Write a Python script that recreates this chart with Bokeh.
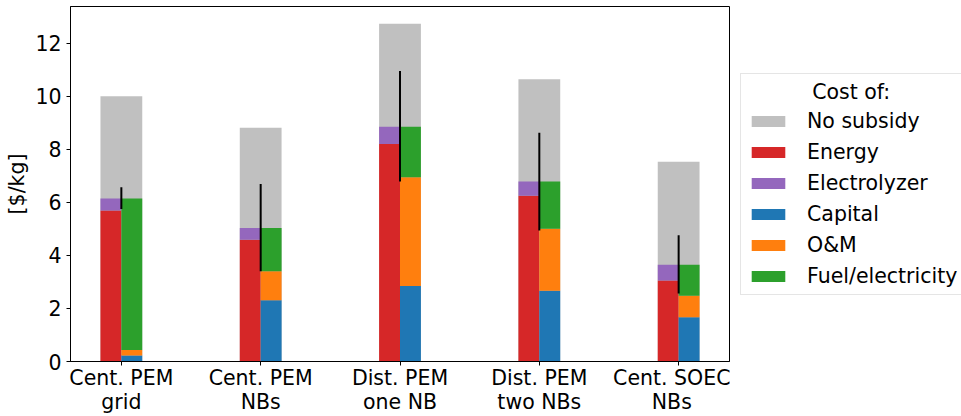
from bokeh.plotting import figure
from bokeh.layouts import row
from bokeh.models import Range1d, FixedTicker, Legend, LegendItem, ColumnDataSource
from bokeh.transform import dodge
from bokeh.embed import file_html
from bokeh.resources import INLINE

# ---- data ----
categories = ["Cent. PEM\ngrid", "Cent. PEM\nNBs", "Dist. PEM\none NB", "Dist. PEM\ntwo NBs", "Cent. SOEC\nNBs"]
no_subsidy = [10.00, 8.81, 12.73, 10.64, 7.53]
energy = [5.69, 4.59, 8.20, 6.25, 3.05]
electrolyzer = [0.45, 0.44, 0.65, 0.53, 0.60]
capital = [0.23, 2.31, 2.85, 2.67, 1.67]
om = [0.20, 1.09, 4.09, 2.33, 0.81]
fuel = [5.71, 1.63, 1.91, 1.78, 1.17]
err_low = [5.75, 3.40, 6.78, 4.94, 2.56]
err_high = [6.57, 6.69, 10.95, 8.62, 4.76]
legend_title = "Cost of:"
legend_labels = ["No subsidy", "Energy", "Electrolyzer", "Capital", "O&M", "Fuel/electricity"]
legend_fields = ["no_subsidy", "energy", "electrolyzer", "capital", "om", "fuel"]
legend_colors = ["#c0c0c0", "#d62728", "#9467bd", "#1f77b4", "#ff7f0e", "#2ca02c"]

FONT = "DejaVu Sans"
FS = "20.5px"
xs = list(range(len(categories)))
src = ColumnDataSource(dict(x=xs, no_subsidy=no_subsidy, energy=energy, electrolyzer=electrolyzer,
                            capital=capital, om=om, fuel=fuel, lo=err_low, hi=err_high))

p = figure(width=730, height=416, output_backend="svg", toolbar_location=None,
           x_range=Range1d(-0.365, 4.365), y_range=Range1d(0, 13.38),
           min_border_left=70, min_border_top=6, min_border_bottom=54, min_border_right=1)

p.xgrid.visible = False
p.ygrid.visible = False
p.outline_line_color = "black"
p.outline_line_alpha = 1

p.vbar(x="x", width=0.3, top="no_subsidy", source=src, color=legend_colors[0], line_color=None)
p.vbar_stack(["energy", "electrolyzer"], x=dodge("x", -0.075), width=0.15, source=src,
             color=legend_colors[1:3], line_color=None)
p.vbar_stack(["capital", "om", "fuel"], x=dodge("x", 0.075), width=0.15, source=src,
             color=legend_colors[3:6], line_color=None)
p.segment(x0="x", y0="lo", x1="x", y1="hi", source=src, line_color="black", line_width=2)

p.xaxis.ticker = FixedTicker(ticks=xs)
p.xaxis.major_label_overrides = {i: c for i, c in enumerate(categories)}
p.yaxis.ticker = FixedTicker(ticks=[0, 2, 4, 6, 8, 10, 12])
p.yaxis.axis_label = "[$/kg]"
for ax in (p.xaxis, p.yaxis):
    ax.major_label_text_font = FONT
    ax.major_label_text_font_size = FS
    ax.major_label_text_color = "black"
    ax.major_label_text_line_height = 1.0
    ax.axis_label_text_font = FONT
    ax.axis_label_text_font_size = FS
    ax.axis_label_text_font_style = "normal"
    ax.axis_label_text_color = "black"
    ax.minor_tick_line_color = None
    ax.major_tick_in = 0
    ax.major_tick_out = 4
    ax.major_tick_line_color = "black"
    ax.axis_line_color = "black"
p.yaxis.major_label_standoff = 5
p.yaxis.axis_label_standoff = 3
p.xaxis.major_label_standoff = 0

# ---- legend panel (separate figure to the right of the axes) ----
lf = figure(width=231, height=416, output_backend="svg", toolbar_location=None,
            x_range=Range1d(0, 1), y_range=Range1d(0, 1), x_axis_type=None, y_axis_type=None,
            min_border=0, min_border_left=0, min_border_right=0, min_border_top=0, min_border_bottom=44)
lf.outline_line_color = None
lf.xgrid.visible = False
lf.ygrid.visible = False
items = []
for lab, fld, col in zip(legend_labels, legend_fields, legend_colors):
    r = lf.vbar(x="x", top=fld, width=0.1, source=src, color=col, line_color=None)
    r.visible = False
    items.append(LegendItem(label=lab, renderers=[r]))

legend = Legend(items=items, location="left", title="\u00a0" * 10 + legend_title)
legend.title_text_font = FONT
legend.title_text_font_size = FS
legend.title_text_font_style = "normal"
legend.title_text_color = "black"
legend.label_text_font = FONT
legend.label_text_font_size = FS
legend.label_text_color = "black"
legend.glyph_width = 42
legend.glyph_height = 14
legend.label_height = 22
legend.label_standoff = 18
legend.spacing = 7
legend.title_standoff = 5
legend.padding = 6
legend.margin = 10
legend.border_line_color = "#cccccc"
legend.border_line_width = 1
legend.background_fill_alpha = 1
legend.inactive_fill_alpha = 0
lf.add_layout(legend, "center")

layout = row(p, lf, spacing=0)
open("out.html", "w").write(file_html(layout, INLINE))
